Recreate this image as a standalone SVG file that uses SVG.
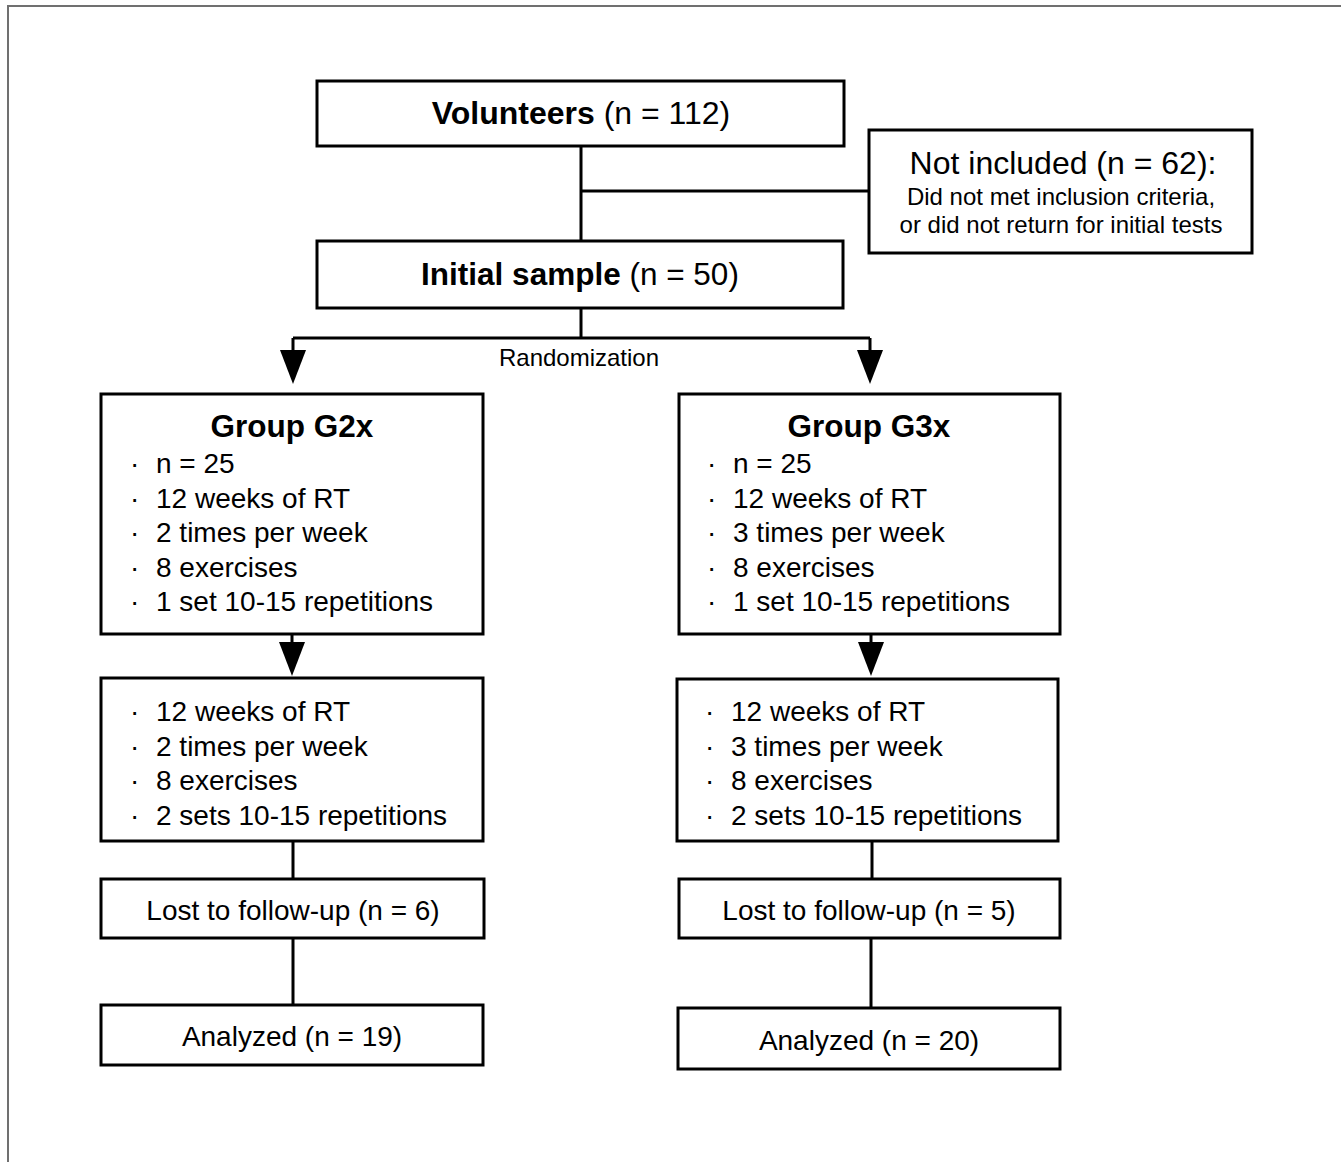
<svg xmlns="http://www.w3.org/2000/svg" width="1341" height="1162" viewBox="0 0 1341 1162">
<style>
.box{fill:#fff;stroke:#000;stroke-width:3}
.ln{stroke:#000;stroke-width:3;fill:none}
.ah{fill:#000}
text{font-family:"Liberation Sans",Arial,Helvetica,sans-serif;fill:#000}
.t32{font-size:32px}
.t31{font-size:31.5px}
.t28{font-size:28px}
.t24{font-size:24px}
.b{font-weight:bold}
.c{text-anchor:middle}
</style>
<rect width="1341" height="1162" fill="#fff"/>
<path d="M8,1162 V6 H1341" fill="none" stroke="#707070" stroke-width="2"/>
<g id="connectors">
<path class="ln" d="M581,146 V241 M581,191 H869"/>
<path class="ln" d="M581,308 V338 M293,338 H870 M293,338 V352 M870,338 V352"/>
<polygon class="ah" points="280,350 306,350 293,384"/>
<polygon class="ah" points="857,350 883,350 870,384"/>
<text class="t24 c" x="579" y="366">Randomization</text>
<path class="ln" d="M292,634 V645 M871,634 V645"/>
<polygon class="ah" points="279,642 305,642 292,676"/>
<polygon class="ah" points="858,642 884,642 871,676"/>
<path class="ln" d="M293,841 V879 M293,938 V1005 M872,841 V879 M871,938 V1008"/>
</g>
<g id="volunteers">
<rect class="box" x="317" y="81" width="527" height="65"/>
<text class="t32 c" x="581" y="124"><tspan class="b">Volunteers</tspan> (n = 112)</text>
</g>
<g id="not-included">
<rect class="box" x="869" y="130" width="383" height="123"/>
<text class="t32 c" x="1063" y="174">Not included (n = 62):</text>
<text class="t24 c" x="1061" y="205">Did not met inclusion criteria,</text>
<text class="t24 c" x="1061" y="233">or did not return for initial tests</text>
</g>
<g id="initial-sample">
<rect class="box" x="317" y="241" width="526" height="67"/>
<text class="t31 c" x="580" y="285"><tspan class="b">Initial sample</tspan> (n = 50)</text>
</g>
<g id="g2x">
<rect class="box" x="101" y="394" width="382" height="240"/>
<text class="t31 b c" x="292" y="437">Group G2x</text>
<g class="t28">
<text x="130" y="473">·</text><text x="156" y="473">n = 25</text>
<text x="130" y="507.5">·</text><text x="156" y="507.5">12 weeks of RT</text>
<text x="130" y="542">·</text><text x="156" y="542">2 times per week</text>
<text x="130" y="576.5">·</text><text x="156" y="576.5">8 exercises</text>
<text x="130" y="611">·</text><text x="156" y="611">1 set 10-15 repetitions</text>
</g>
</g>
<g id="g2x-phase2">
<rect class="box" x="101" y="678" width="382" height="163"/>
<g class="t28">
<text x="130" y="721">·</text><text x="156" y="721">12 weeks of RT</text>
<text x="130" y="755.5">·</text><text x="156" y="755.5">2 times per week</text>
<text x="130" y="790">·</text><text x="156" y="790">8 exercises</text>
<text x="130" y="824.5">·</text><text x="156" y="824.5">2 sets 10-15 repetitions</text>
</g>
</g>
<g id="g2x-lost">
<rect class="box" x="101" y="879" width="383" height="59"/>
<text class="t28 c" x="293" y="920">Lost to follow-up (n = 6)</text>
</g>
<g id="g2x-analyzed">
<rect class="box" x="101" y="1005" width="382" height="60"/>
<text class="t28 c" x="292" y="1046">Analyzed (n = 19)</text>
</g>
<g id="g3x">
<rect class="box" x="679" y="394" width="381" height="240"/>
<text class="t31 b c" x="869" y="437">Group G3x</text>
<g class="t28">
<text x="707" y="473">·</text><text x="733" y="473">n = 25</text>
<text x="707" y="507.5">·</text><text x="733" y="507.5">12 weeks of RT</text>
<text x="707" y="542">·</text><text x="733" y="542">3 times per week</text>
<text x="707" y="576.5">·</text><text x="733" y="576.5">8 exercises</text>
<text x="707" y="611">·</text><text x="733" y="611">1 set 10-15 repetitions</text>
</g>
</g>
<g id="g3x-phase2">
<rect class="box" x="677" y="679" width="381" height="162"/>
<g class="t28">
<text x="705" y="721">·</text><text x="731" y="721">12 weeks of RT</text>
<text x="705" y="755.5">·</text><text x="731" y="755.5">3 times per week</text>
<text x="705" y="790">·</text><text x="731" y="790">8 exercises</text>
<text x="705" y="824.5">·</text><text x="731" y="824.5">2 sets 10-15 repetitions</text>
</g>
</g>
<g id="g3x-lost">
<rect class="box" x="679" y="879" width="381" height="59"/>
<text class="t28 c" x="869" y="920">Lost to follow-up (n = 5)</text>
</g>
<g id="g3x-analyzed">
<rect class="box" x="678" y="1008" width="382" height="61"/>
<text class="t28 c" x="869" y="1050">Analyzed (n = 20)</text>
</g>
</svg>
